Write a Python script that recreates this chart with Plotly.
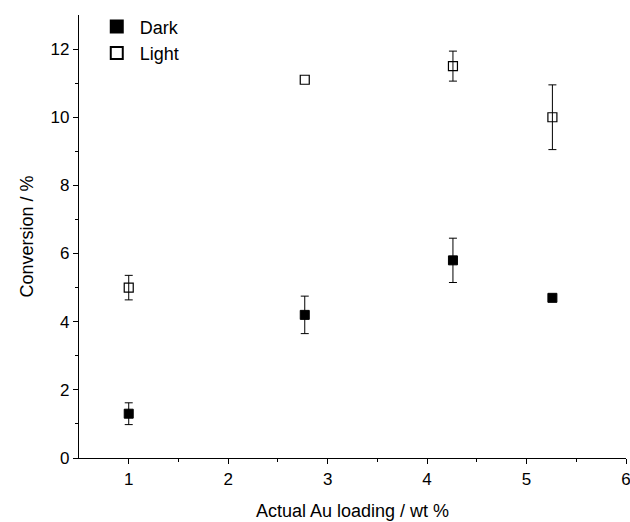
import plotly.graph_objects as go

x_loading = [1.0, 2.77, 4.26, 5.26]
dark_conv = [1.3, 4.2, 5.8, 4.7]
dark_err = [0.32, 0.55, 0.65, None]
light_conv = [5.0, 11.1, 11.5, 10.0]
light_err = [0.36, None, 0.44, 0.95]

FONT = "Liberation Sans, Arial, sans-serif"

fig = go.Figure()


def add_series(name, ys, errs, marker):
    idx_e = [i for i, e in enumerate(errs) if e is not None]
    idx_n = [i for i, e in enumerate(errs) if e is None]
    fig.add_trace(go.Scatter(
        x=[x_loading[i] for i in idx_e], y=[ys[i] for i in idx_e],
        mode="markers", name=name, legendgroup=name, marker=marker,
        error_y=dict(type="data", array=[errs[i] for i in idx_e], visible=True,
                     color="black", thickness=1, width=4),
    ))
    if idx_n:
        fig.add_trace(go.Scatter(
            x=[x_loading[i] for i in idx_n], y=[ys[i] for i in idx_n],
            mode="markers", name=name, legendgroup=name, showlegend=False, marker=marker,
        ))


add_series("Dark", dark_conv, dark_err,
           dict(symbol="square", size=9, color="black", line=dict(color="black", width=1)))
add_series("Light", light_conv, light_err,
           dict(symbol="square-open", size=9, color="black", line=dict(color="black", width=1.2)))

fig.update_layout(
    width=630, height=522,
    margin=dict(l=79, r=4, t=15, b=64, autoexpand=False),
    plot_bgcolor="white", paper_bgcolor="white",
    font=dict(family=FONT, size=17, color="black"),
    showlegend=True,
    legend=dict(x=0.027, y=1.015, xanchor="left", yanchor="top",
                font=dict(size=18), bgcolor="rgba(0,0,0,0)",
                itemsizing="constant", tracegroupgap=0, itemwidth=36),
    xaxis=dict(
        range=[0.5, 6.0], tickvals=[1, 2, 3, 4, 5, 6],
        showline=True, linecolor="black", linewidth=1.3, mirror=False,
        ticks="outside", ticklen=5, tickwidth=1.3, tickcolor="black",
        ticklabeloverflow="allow", automargin=False,
        minor=dict(tickvals=[1.5, 2.5, 3.5, 4.5, 5.5], ticks="outside", ticklen=3, tickwidth=1.3, tickcolor="black"),
        showgrid=False, zeroline=False,
        title=dict(text="Actual Au loading / wt %", font=dict(size=18), standoff=16),
        tickfont=dict(size=17),
    ),
    yaxis=dict(
        range=[0, 13], tickvals=[0, 2, 4, 6, 8, 10, 12],
        showline=True, linecolor="black", linewidth=1.3, mirror=False,
        ticks="outside", ticklen=5, tickwidth=1.3, tickcolor="black",
        automargin=False,
        minor=dict(tickvals=[1, 3, 5, 7, 9, 11], ticks="outside", ticklen=3, tickwidth=1.3, tickcolor="black"),
        showgrid=False, zeroline=False,
        title=dict(text="Conversion / %", font=dict(size=18), standoff=12),
        tickfont=dict(size=17),
    ),
)

fig.write_html("out.html")
